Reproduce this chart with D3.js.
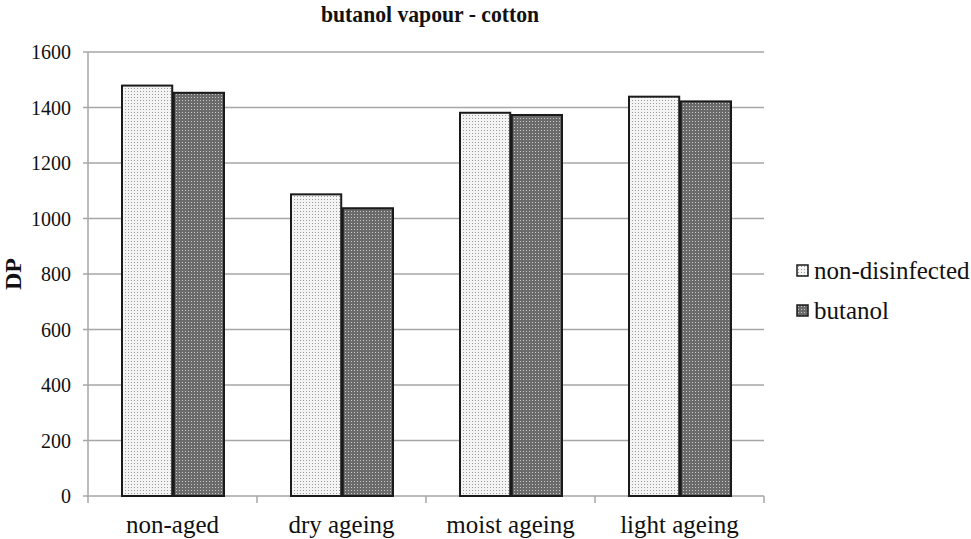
<!DOCTYPE html>
<html>
<head>
<meta charset="utf-8">
<script src="https://cdn.jsdelivr.net/npm/d3@7"></script>
<style>
  body { margin: 0; background: #fff; }
  text { font-family: "Liberation Serif", "Times New Roman", serif; fill: #111; }
</style>
</head>
<body>
<svg id="chart" width="971" height="539"></svg>
<script>
// chart values
const categories = ['non-aged', 'dry ageing', 'moist ageing', 'light ageing'];
const seriesNames = ['non-disinfected', 'butanol'];
const nonDisinfected = [1479, 1087, 1381, 1439];
const butanol = [1453, 1037, 1373, 1422];
const yTicks = [0, 200, 400, 600, 800, 1000, 1200, 1400, 1600];

const svg = d3.select('#chart');
const plot = {left: 88, right: 764, top: 52, bottom: 496};

const x0 = d3.scaleBand().domain(categories).range([plot.left, plot.right]);
const x1 = d3.scaleBand().domain(seriesNames).range([34, 136]).paddingInner(0.03);
const y = d3.scaleLinear().domain([0, 1600]).range([plot.bottom, plot.top]);

// dotted fills, one light and one dark
const defs = svg.append('defs');
function dotPattern(id, bg, dot) {
  const p = defs.append('pattern')
    .attr('id', id)
    .attr('width', 3)
    .attr('height', 3)
    .attr('patternUnits', 'userSpaceOnUse');
  p.append('rect').attr('width', 3).attr('height', 3).attr('fill', bg);
  p.append('rect').attr('x', 1).attr('y', 1).attr('width', 1).attr('height', 1).attr('fill', dot);
}
dotPattern('pat-light', '#f4f4f4', '#9a9a9a');
dotPattern('pat-dark', '#6a6a6a', '#c8c8c8');
const fills = {'non-disinfected': 'url(#pat-light)', 'butanol': 'url(#pat-dark)'};

// gridlines
svg.append('g')
  .selectAll('line')
  .data(yTicks)
  .join('line')
  .attr('x1', plot.left - 5)
  .attr('x2', plot.right)
  .attr('y1', d => y(d))
  .attr('y2', d => y(d))
  .attr('stroke', '#a6a6a6')
  .attr('stroke-width', 1.5);

// left axis line
svg.append('line')
  .attr('x1', plot.left).attr('x2', plot.left)
  .attr('y1', plot.top).attr('y2', plot.bottom)
  .attr('stroke', '#a6a6a6').attr('stroke-width', 1.5);

// y tick labels
svg.append('g')
  .selectAll('text')
  .data(yTicks)
  .join('text')
  .attr('x', plot.left - 17)
  .attr('y', d => y(d))
  .attr('dy', '0.35em')
  .attr('text-anchor', 'end')
  .style('font-size', '20px')
  .text(d => d);

// category boundary ticks on x axis
const bounds = categories.map(c => x0(c)).concat([plot.right]);
svg.append('g')
  .selectAll('line')
  .data(bounds)
  .join('line')
  .attr('x1', d => d).attr('x2', d => d)
  .attr('y1', plot.bottom).attr('y2', plot.bottom + 7)
  .attr('stroke', '#a6a6a6').attr('stroke-width', 1.5);

// category labels
svg.append('g')
  .selectAll('text')
  .data(categories)
  .join('text')
  .attr('x', d => x0(d) + x0.bandwidth() / 2)
  .attr('y', 533)
  .attr('text-anchor', 'middle')
  .style('font-size', '25px')
  .text(d => d);

// bars
const rows = categories.map((c, i) => ({
  cat: c,
  vals: [
    {name: 'non-disinfected', v: nonDisinfected[i]},
    {name: 'butanol', v: butanol[i]}
  ]
}));
svg.append('g')
  .selectAll('g')
  .data(rows)
  .join('g')
  .attr('transform', d => `translate(${x0(d.cat)},0)`)
  .selectAll('rect')
  .data(d => d.vals)
  .join('rect')
  .attr('x', d => x1(d.name))
  .attr('y', d => y(d.v))
  .attr('width', x1.bandwidth())
  .attr('height', d => y(0) - y(d.v))
  .attr('fill', d => fills[d.name])
  .attr('stroke', '#1a1a1a')
  .attr('stroke-width', 2);

// title
svg.append('text')
  .attr('x', 430)
  .attr('y', 22)
  .attr('text-anchor', 'middle')
  .attr('textLength', 218)
  .attr('lengthAdjust', 'spacingAndGlyphs')
  .style('font-size', '24px')
  .style('font-weight', 'bold')
  .text('butanol vapour - cotton');

// y axis title
svg.append('text')
  .attr('transform', 'translate(21,274) rotate(-90)')
  .attr('text-anchor', 'middle')
  .style('font-size', '24px')
  .style('font-weight', 'bold')
  .text('DP');

// legend
const legend = svg.append('g')
  .selectAll('g')
  .data(seriesNames)
  .join('g')
  .attr('transform', (d, i) => `translate(797,${271 + i * 40})`);
legend.append('rect')
  .attr('x', 0).attr('y', -6)
  .attr('width', 11).attr('height', 11)
  .attr('fill', d => fills[d])
  .attr('stroke', '#1a1a1a').attr('stroke-width', 1.5);
legend.append('text')
  .attr('x', 17)
  .attr('y', 0)
  .attr('dy', '0.33em')
  .style('font-size', '25px')
  .text(d => d);
</script>
</body>
</html>
